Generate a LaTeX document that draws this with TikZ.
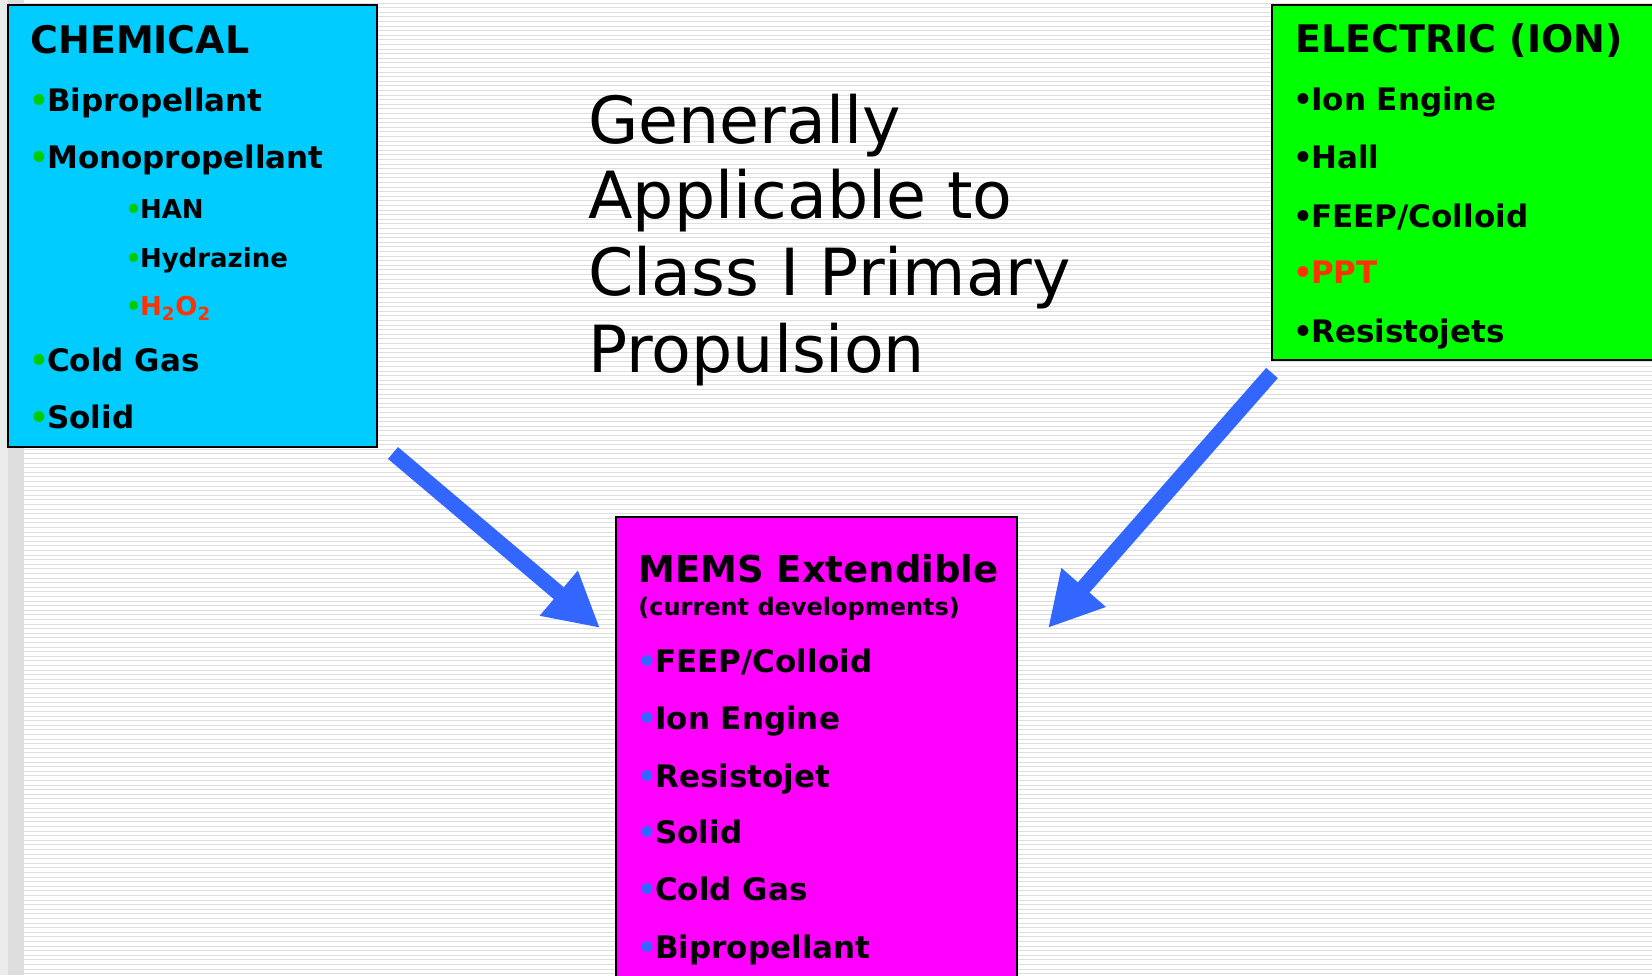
\documentclass[tikz,border=0pt]{standalone}
\usepackage{fontspec}
\setmainfont{DejaVu Sans}
\usepackage{xcolor}
\usepackage{tikz}
\usetikzlibrary{arrows.meta}

\definecolor{chemcyan}{RGB}{0,204,255}
\definecolor{elecgreen}{RGB}{0,255,0}
\definecolor{memsmagenta}{RGB}{255,0,255}
\definecolor{dotgreen}{RGB}{0,204,0}
\definecolor{hotred}{RGB}{255,51,0}
\definecolor{arrowblue}{RGB}{51,102,255}

\newcommand{\greendot}{\textcolor{dotgreen}{•}\kern-1pt}
\newcommand{\bluedot}{\textcolor{arrowblue}{•}\kern-1pt}
\newcommand{\blackdot}{•\kern-1pt}

\begin{document}
\begin{tikzpicture}[x=0.5pt,y=-0.5pt,
	boxline/.style={draw=black,line width=1pt},
	head/.style={anchor=base west,inner sep=0,font=\fontsize{19}{22}\selectfont\bfseries},
	item/.style={anchor=base west,inner sep=0,font=\fontsize{15.5}{18}\selectfont\bfseries},
	subitem/.style={anchor=base west,inner sep=0,font=\fontsize{13}{15}\selectfont\bfseries},
	bigtext/.style={anchor=base west,inner sep=0,font=\fontsize{32.5}{38}\selectfont},
	bigarrow/.style={arrowblue,line width=7.75pt,-{Triangle[length=27pt,width=27.5pt]}}]

	\useasboundingbox (0,0) rectangle (1652,975);

	% background
	\fill [white] (0,0) rectangle (1652,975);
	\fill [black!8] (0,0) rectangle (8,975);
	\fill [black!13] (8,0) rectangle (24,975);
	\foreach \y in {3,7.6,...,975}
		\draw [black!13,line width=0.5pt] (24,\y) -- (1652,\y);

	% chemical
	\draw [boxline,fill=chemcyan] (8,5) rectangle (377,447);

	\node [head] (chemhead) at (30,53) {CHEMICAL};

	\node [item] (chembi) at (29,111) {\greendot Bipropellant};

	\node [item] (chemmono) at (29,168) {\greendot Monopropellant};

	\node [subitem] (chemhan) at (125,218) {\greendot HAN};

	\node [subitem] (chemhyd) at (125,267) {\greendot Hydrazine};

	\node [subitem] (chemhoo) at (125,315) {\greendot\textcolor{hotred}{H\textsubscript{2}O\textsubscript{2}}};

	\node [item] (chemcold) at (29,371) {\greendot Cold Gas};

	\node [item] (chemsolid) at (29,428) {\greendot Solid};

	% electric
	\draw [boxline,fill=elecgreen] (1272,5) rectangle (1662,360);

	\node [head] (elechead) at (1295,52) {ELECTRIC (ION)};

	\node [item] (elecion) at (1293,110) {\blackdot Ion Engine};

	\node [item] (elechall) at (1293,168) {\blackdot Hall};

	\node [item] (elecfeep) at (1293,227) {\blackdot FEEP/Colloid};

	\node [item,hotred] (elecppt) at (1293,283) {\blackdot PPT};

	\node [item] (elecres) at (1293,342) {\blackdot Resistojets};

	% middle text
	\node [bigtext] (gen1) at (588,143) {Generally};
	\node [bigtext] (gen2) at (588,218) {Applicable to};
	\node [bigtext] (gen3) at (588,295) {Class I Primary};
	\node [bigtext] (gen4) at (588,372) {Propulsion};

	% mems
	\draw [boxline,fill=memsmagenta] (616,517) rectangle (1017,990);

	\node [head,font=\fontsize{18.5}{22}\selectfont\bfseries] (memshead) at (638,582) {MEMS Extendible};

	\node [anchor=base west,inner sep=0,font=\fontsize{12}{14}\selectfont\bfseries] (memsnote) at (638,615) {(current developments)};

	\node [item] (memsfeep) at (637,672) {\bluedot FEEP/Colloid};

	\node [item] (memsion) at (637,729) {\bluedot Ion Engine};

	\node [item] (memsres) at (637,787) {\bluedot Resistojet};

	\node [item] (memssolid) at (637,843) {\bluedot Solid};

	\node [item] (memscold) at (637,900) {\bluedot Cold Gas};

	\node [item] (memsbi) at (637,958) {\bluedot Bipropellant};

	% arrows
	\coordinate (chemtail) at (393,453);
	\coordinate (memsleft) at (600,628);
	\coordinate (electail) at (1272,373);
	\coordinate (memsright) at (1048,628);

	\draw [bigarrow] (chemtail) -- (memsleft);
	\draw [bigarrow] (electail) -- (memsright);

\end{tikzpicture}
\end{document}
